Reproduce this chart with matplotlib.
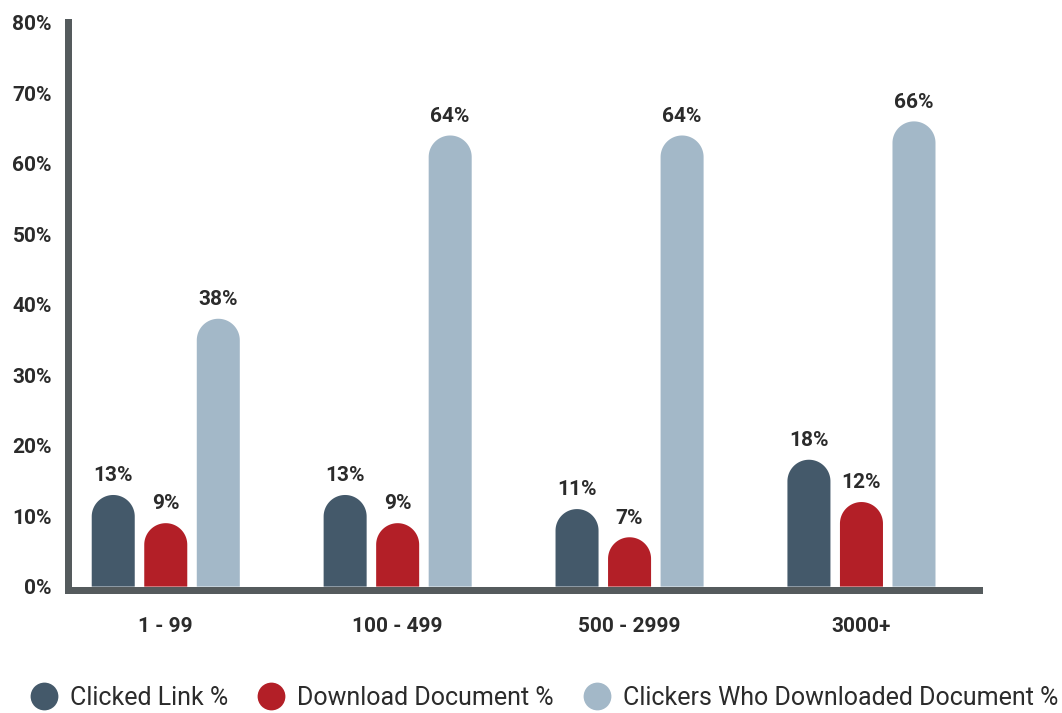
import matplotlib.pyplot as plt
import numpy as np
from matplotlib.patches import Polygon
from matplotlib.lines import Line2D
from matplotlib.ticker import FuncFormatter

# 회사 규모별 클릭 / 다운로드 비율
groups = ['1 - 99', '100 - 499', '500 - 2999', '3000+']
clicked = [13, 13, 11, 18]
download = [9, 9, 7, 12]
clickers = [38, 64, 64, 66]

series_names = ['Clicked Link %', 'Download Document %', 'Clickers Who Downloaded Document %']
colors = ['#44596a', '#b31f27', '#a3b8c8']
axis_color = '#555b5d'
text_color = '#2b2b2b'

plt.rcParams['font.family'] = ['Roboto', 'DejaVu Sans']

W, H = 1062, 713
fig = plt.figure(figsize=(W / 100, H / 100), dpi=100)
# 축 영역 (픽셀 기준)
left_px, right_px, top_px, bottom_px = 68.5, 979.5, 22, 589.5
ax = fig.add_axes([left_px / W, (H - bottom_px) / H,
                   (right_px - left_px) / W, (bottom_px - top_px) / H])

xmin, xmax = -0.4194, 3.509
ymin, ymax = -0.41, 80.1
ax.set_xlim(xmin, xmax)
ax.set_ylim(ymin, ymax)

x = np.arange(len(groups))
width = 0.1855
step = 0.2265

# 둥근 막대 윗부분: 픽셀 비율로 반지름 계산
px_per_x = (right_px - left_px) / (xmax - xmin)
px_per_y = (bottom_px - top_px) / (ymax - ymin)
ry = (width / 2) * px_per_x / px_per_y
theta = np.linspace(0, np.pi, 60)


def rounded_bar(xc, v, color):
    rx = width / 2
    arc = np.column_stack([xc + rx * np.cos(theta), (v - ry) + ry * np.sin(theta)])
    pts = np.vstack([[xc + rx, 0], arc, [xc - rx, 0]])
    ax.add_patch(Polygon(pts, closed=True, facecolor=color, edgecolor='none'))


for i, (vals, c) in enumerate(zip([clicked, download, clickers], colors)):
    xs = x + (i - 1) * step
    for xi, v in zip(xs, vals):
        rounded_bar(xi, v, c)
        ax.annotate(f'{v}%', (xi, v), xytext=(0, 7), textcoords='offset points',
                    ha='center', va='bottom', fontsize=15, fontweight='bold',
                    color=text_color)

# 축 스타일
for s in ['top', 'right']:
    ax.spines[s].set_visible(False)
for s in ['left', 'bottom']:
    ax.spines[s].set_color(axis_color)
    ax.spines[s].set_linewidth(5.04)
    ax.spines[s].set_zorder(3)
ax.spines['bottom'].set_capstyle('projecting')

ax.set_yticks(range(0, 81, 10))
ax.yaxis.set_major_formatter(FuncFormatter(lambda v, p: f'{int(v)}%'))
ax.set_xticks(x, labels=groups)
ax.tick_params(axis='y', length=0, pad=12, labelsize=15, labelcolor=text_color)
ax.tick_params(axis='x', length=0, pad=20, labelsize=15, labelcolor=text_color)
for lab in ax.get_xticklabels() + ax.get_yticklabels():
    lab.set_fontweight('bold')

# 범례
handles = [Line2D([], [], marker='o', linestyle='', markersize=20,
                  markerfacecolor=c, markeredgewidth=0) for c in colors]
fig.legend(handles, series_names, loc='center left', bbox_to_anchor=(0.0275, 0.021),
           ncol=3, frameon=False, handletextpad=0.45, columnspacing=1.1,
           handlelength=1.2, prop={'family': 'Roboto', 'size': 18},
           labelcolor=text_color, borderpad=0, borderaxespad=0)

fig.savefig('out.png', dpi=100)
